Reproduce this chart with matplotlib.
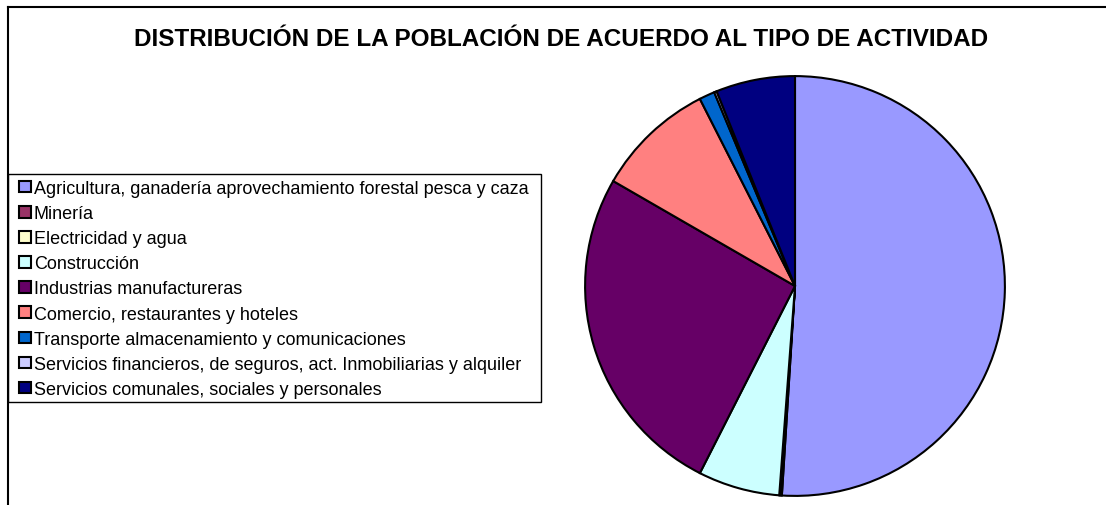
import matplotlib
matplotlib.use("Agg")
import matplotlib.pyplot as plt
from matplotlib.patches import Patch, Rectangle
from matplotlib.lines import Line2D

plt.rcParams['font.family'] = ['Liberation Sans', 'DejaVu Sans']

# datos (porcentaje de la población por actividad)
actividades = [
    'Agricultura, ganadería aprovechamiento forestal pesca y caza',
    'Minería',
    'Electricidad y agua',
    'Construcción',
    'Industrias manufactureras',
    'Comercio, restaurantes y hoteles',
    'Transporte almacenamiento y comunicaciones',
    'Servicios financieros, de seguros, act. Inmobiliarias y alquiler',
    'Servicios comunales, sociales y personales',
]
porcentajes = [51.1, 0.1, 0.1, 6.3, 25.9, 9.2, 1.2, 0.2, 6.1]
colores = ['#9999FF', '#993366', '#FFFFCC', '#CCFFFF', '#660066',
           '#FF8080', '#0066CC', '#CCCCFF', '#000080']

W, H = 1106, 506
fig = plt.figure(figsize=(W / 100, H / 100), dpi=100)

# pie
cx, cy, r = 795, 287, 212
ax = fig.add_axes([(cx - r) / W, (H - cy - r) / H, 2 * r / W, 2 * r / H])
ax.pie(porcentajes, colors=colores, startangle=90, counterclock=False,
       wedgeprops=dict(edgecolor='black', linewidth=1.5))
ax.set_xlim(-1.01, 1.01)
ax.set_ylim(-1.01, 1.01)
ax.set_aspect('equal')
ax.axis('off')

# titulo
fig.text(561 / W, 1 - 40 / H, 'DISTRIBUCIÓN DE LA POBLACIÓN DE ACUERDO AL TIPO DE ACTIVIDAD',
         ha='center', va='center', fontsize=17.5, fontweight='bold')

# caja de la leyenda
fig.add_artist(Rectangle((8 / W, 1 - 403 / H), (541 - 8) / W, (403 - 175) / H,
                         transform=fig.transFigure, facecolor='white',
                         edgecolor='black', linewidth=1.0))

# leyenda
handles = [Patch(facecolor=c, edgecolor='black', linewidth=1.5) for c in colores]
leg = fig.legend(handles, actividades, loc='upper left',
                 bbox_to_anchor=(19 / W, 1 - 181 / H), fontsize=13,
                 frameon=False, handlelength=0.68, handleheight=0.62,
                 handletextpad=0.15, labelspacing=0.45, borderpad=0,
                 borderaxespad=0)

# borde del area del grafico (solo arriba e izquierda visibles)
fig.add_artist(Line2D([8 / W, 1], [1 - 8 / H, 1 - 8 / H], color='black', linewidth=1.5))
fig.add_artist(Line2D([8 / W, 8 / W], [0, 1 - 8 / H], color='black', linewidth=1.5))

fig.savefig('out.png', dpi=100)
